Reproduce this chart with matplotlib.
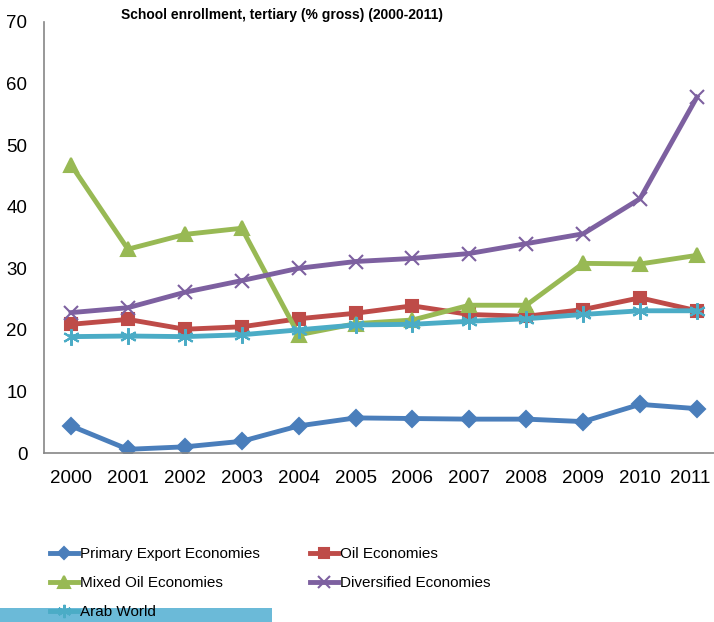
import matplotlib.pyplot as plt
from matplotlib.patches import Rectangle
from matplotlib.transforms import ScaledTranslation

plt.rcParams['font.family'] = ['Liberation Sans', 'DejaVu Sans']

years = ['2000', '2001', '2002', '2003', '2004', '2005',
         '2006', '2007', '2008', '2009', '2010', '2011']

primary_export = [4.4, 0.6, 1.0, 1.9, 4.4, 5.7, 5.6, 5.5, 5.5, 5.1, 7.9, 7.2]
oil = [20.9, 21.7, 20.1, 20.5, 21.8, 22.7, 23.9, 22.5, 22.2, 23.3, 25.2, 23.1]
mixed_oil = [46.8, 33.1, 35.5, 36.5, 19.2, 21.0, 21.6, 24.0, 24.0, 30.8, 30.7, 32.1]
diversified = [22.8, 23.6, 26.1, 28.0, 30.0, 31.1, 31.6, 32.4, 34.0, 35.6, 41.3, 57.8]
arab_world = [18.9, 19.0, 18.9, 19.2, 20.0, 20.8, 20.9, 21.4, 21.8, 22.5, 23.1, 23.1]

series = [
    ("Primary Export Economies", primary_export, '#4a7ebb', 'D', 8),
    ("Oil Economies", oil, '#be4b48', 's', 9),
    ("Mixed Oil Economies", mixed_oil, '#98b954', '^', 10),
    ("Diversified Economies", diversified, '#7d60a0', 'x', 10),
    ("Arab World", arab_world, '#4bacc6', (6, 2, 0), 12),
]

fig = plt.figure(figsize=(7.14, 6.22), dpi=100)
ax = fig.add_axes([44 / 714, 169 / 622, 670 / 714, 431 / 622])

x = list(range(len(years)))
handles = {}
for name, vals, color, marker, ms in series:
    h, = ax.plot(x, vals, color=color, linewidth=3.5, marker=marker,
                 markersize=ms, markeredgewidth=1.5, label=name)
    handles[name] = h

ax.set_xlim(-0.475, 11.3)
ax.set_ylim(0, 70)
ax.set_xticks(x)
ax.set_xticklabels(years)
ax.set_yticks(range(0, 71, 10))
ax.tick_params(axis='both', length=0, labelsize=13.5)
ax.tick_params(axis='x', pad=12)
ax.tick_params(axis='y', pad=12)
# Excel nudges the last category label inward so it fits
last = ax.get_xticklabels()[-1]
last.set_transform(last.get_transform() + ScaledTranslation(-7 / 100, 0, fig.dpi_scale_trans))
for side in ['top', 'right']:
    ax.spines[side].set_visible(False)
for side in ['left', 'bottom']:
    ax.spines[side].set_color('#868686')
    ax.spines[side].set_linewidth(1.2)

fig.text(282 / 714, 1 - 15 / 622, "School enrollment, tertiary (% gross) (2000-2011)",
         ha='center', va='center', fontsize=10, fontweight='bold')

# highlight strip at the bottom left
fig.patches.append(Rectangle((0, 0), 272 / 714, 14 / 622, transform=fig.transFigure,
                             facecolor='#6bbad8', edgecolor='none', zorder=0))

order = ["Primary Export Economies", "Mixed Oil Economies", "Arab World",
         "Oil Economies", "Diversified Economies"]
fig.legend([handles[n] for n in order], order, ncol=2,
           loc='upper left', bbox_to_anchor=(50 / 714, 1 - 547 / 622),
           frameon=False, fontsize=11,
           handlelength=1.83, handletextpad=0.13,
           columnspacing=3.3, labelspacing=0.98, borderpad=0, borderaxespad=0,
           markerscale=0.8)

fig.savefig('out.png', dpi=100)
